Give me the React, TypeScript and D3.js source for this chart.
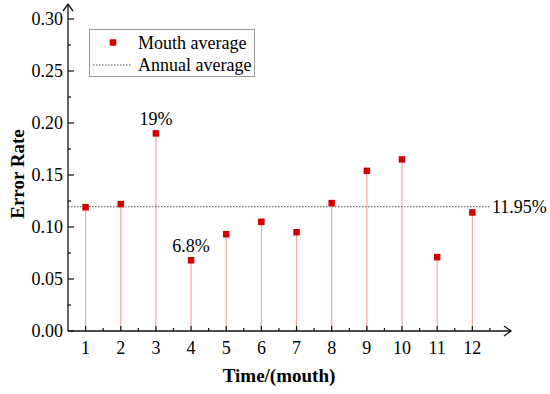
import { useEffect, useRef } from "react";
import * as d3 from "d3";

const months = [1, 2, 3, 4, 5, 6, 7, 8, 9, 10, 11, 12];
const errorRates = [0.119, 0.122, 0.19, 0.068, 0.093, 0.105, 0.095, 0.123, 0.154, 0.165, 0.071, 0.114];
const annualAverage = 0.1195;
const yTicks = [0, 0.05, 0.1, 0.15, 0.2, 0.25, 0.3];
const annotations = [
    { month: 3, text: "19%" },
    { month: 4, text: "6.8%" },
];

const App = () => {
    const svgRef = useRef<SVGSVGElement>(null);

    useEffect(() => {
        const svg = d3.select(svgRef.current);
        svg.selectAll("*").remove();

        const font = "'Liberation Serif', 'Times New Roman', serif";
        const x = d3.scaleLinear().domain([0.5, 13]).range([68, 507.5]);
        const y = d3.scaleLinear().domain([0, 0.3]).range([331, 19]);

        // stems
        svg
            .append("g")
            .selectAll("line")
            .data(months)
            .enter()
            .append("line")
            .attr("x1", (d) => x(d))
            .attr("x2", (d) => x(d))
            .attr("y1", y(0))
            .attr("y2", (d, i) => y(errorRates[i]))
            .attr("stroke", "#f4a6a6")
            .attr("stroke-width", 1.2);

        // annual average line
        svg
            .append("line")
            .attr("x1", x(0.5))
            .attr("x2", x(12.5))
            .attr("y1", y(annualAverage))
            .attr("y2", y(annualAverage))
            .attr("stroke", "#555")
            .attr("stroke-width", 1)
            .attr("stroke-dasharray", "1.5,1.5");

        svg
            .append("text")
            .attr("x", x(12.5) + 2)
            .attr("y", y(annualAverage) + 6)
            .style("font-family", font)
            .style("font-size", "18px")
            .text(`${(annualAverage * 100).toFixed(2)}%`);

        // axes
        const axisColor = "#111";
        svg
            .append("line")
            .attr("x1", x(0.5))
            .attr("x2", 511)
            .attr("y1", y(0))
            .attr("y2", y(0))
            .attr("stroke", axisColor)
            .attr("stroke-width", 1.3);
        svg
            .append("path")
            .attr("d", `M504,${y(0) - 5} L511,${y(0)} L504,${y(0) + 5}`)
            .attr("fill", "none")
            .attr("stroke", axisColor)
            .attr("stroke-width", 1.3);
        svg
            .append("line")
            .attr("x1", x(0.5))
            .attr("x2", x(0.5))
            .attr("y1", y(0))
            .attr("y2", 4)
            .attr("stroke", axisColor)
            .attr("stroke-width", 1.3);
        svg
            .append("path")
            .attr("d", `M${x(0.5) - 5},11 L${x(0.5)},4 L${x(0.5) + 5},11`)
            .attr("fill", "none")
            .attr("stroke", axisColor)
            .attr("stroke-width", 1.3);

        // x ticks
        const xg = svg.append("g");
        months.forEach((m) => {
            xg.append("line")
                .attr("x1", x(m))
                .attr("x2", x(m))
                .attr("y1", y(0))
                .attr("y2", y(0) - 5)
                .attr("stroke", axisColor)
                .attr("stroke-width", 1.2);
            xg.append("line")
                .attr("x1", x(m + 0.5))
                .attr("x2", x(m + 0.5))
                .attr("y1", y(0))
                .attr("y2", y(0) - 3)
                .attr("stroke", axisColor)
                .attr("stroke-width", 1.2);
            xg.append("text")
                .attr("x", x(m))
                .attr("y", 354)
                .attr("text-anchor", "middle")
                .style("font-family", font)
                .style("font-size", "18px")
                .text(m);
        });

        // y ticks
        const yg = svg.append("g");
        yTicks.forEach((t, i) => {
            yg.append("line")
                .attr("x1", x(0.5))
                .attr("x2", x(0.5) + 6)
                .attr("y1", y(t))
                .attr("y2", y(t))
                .attr("stroke", axisColor)
                .attr("stroke-width", 1.2);
            if (i < yTicks.length - 1) {
                yg.append("line")
                    .attr("x1", x(0.5))
                    .attr("x2", x(0.5) + 3)
                    .attr("y1", y(t + 0.025))
                    .attr("y2", y(t + 0.025))
                    .attr("stroke", axisColor)
                    .attr("stroke-width", 1.2);
            }
            yg.append("text")
                .attr("x", 63)
                .attr("y", y(t) + 6)
                .attr("text-anchor", "end")
                .style("font-family", font)
                .style("font-size", "18px")
                .text(t.toFixed(2));
        });

        // markers
        const size = 6.5;
        svg
            .append("g")
            .selectAll("rect")
            .data(months)
            .enter()
            .append("rect")
            .attr("x", (d) => x(d) - size / 2)
            .attr("y", (d, i) => y(errorRates[i]) - size / 2)
            .attr("width", size)
            .attr("height", size)
            .attr("fill", "#d40000");

        // annotations
        annotations.forEach((a) => {
            svg.append("text")
                .attr("x", x(a.month))
                .attr("y", y(errorRates[a.month - 1]) - 8)
                .attr("text-anchor", "middle")
                .style("font-family", font)
                .style("font-size", "18px")
                .text(a.text);
        });

        // axis titles
        svg.append("text")
            .attr("x", 279)
            .attr("y", 382)
            .attr("text-anchor", "middle")
            .style("font-family", font)
            .style("font-size", "19px")
            .style("font-weight", "bold")
            .text("Time/(mouth)");
        svg.append("text")
            .attr("transform", "translate(24,174) rotate(-90)")
            .attr("text-anchor", "middle")
            .style("font-family", font)
            .style("font-size", "19px")
            .style("font-weight", "bold")
            .text("Error Rate");

        // legend
        const lg = svg.append("g");
        lg.append("rect")
            .attr("x", 89.5)
            .attr("y", 29.5)
            .attr("width", 165)
            .attr("height", 47)
            .attr("fill", "white")
            .attr("stroke", "#999")
            .attr("stroke-width", 1);
        lg.append("rect")
            .attr("x", 113 - size / 2)
            .attr("y", 42.5 - size / 2)
            .attr("width", size)
            .attr("height", size)
            .attr("fill", "#d40000");
        lg.append("text")
            .attr("x", 138)
            .attr("y", 49)
            .style("font-family", font)
            .style("font-size", "18px")
            .text("Mouth average");
        lg.append("line")
            .attr("x1", 93)
            .attr("x2", 132)
            .attr("y1", 65)
            .attr("y2", 65)
            .attr("stroke", "#555")
            .attr("stroke-dasharray", "1.5,1.5");
        lg.append("text")
            .attr("x", 138)
            .attr("y", 71)
            .style("font-family", font)
            .style("font-size", "18px")
            .text("Annual average");
    }, []);

    return (
        <svg
            ref={svgRef}
            width={550}
            height={394}
            style={{ position: "absolute", left: 0, top: 0, background: "white" }}
        ></svg>
    );
};

export default App;
